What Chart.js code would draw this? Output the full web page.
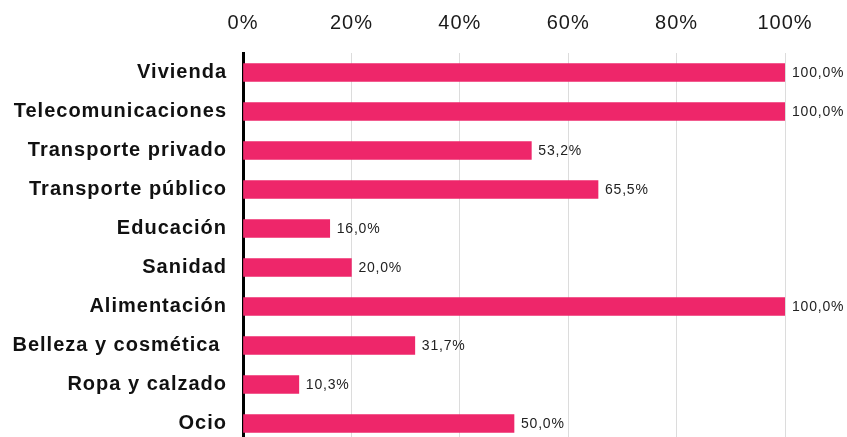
<!DOCTYPE html>
<html lang="es">
<head>
    <meta charset="UTF-8">
    <title>Gasto por categoría</title>
    <script src="https://cdn.jsdelivr.net/npm/chart.js"></script>
    <style>
        html, body { margin: 0; padding: 0; background: #fff; overflow: hidden; }
        canvas { display: block; }
    </style>
</head>
<body>
    <canvas id="chart" width="847" height="443"></canvas>
    <script>
        const categorias = [
            'Vivienda', 'Telecomunicaciones', 'Transporte privado', 'Transporte público',
            'Educación', 'Sanidad', 'Alimentación', 'Belleza y cosmética ',
            'Ropa y calzado', 'Ocio'
        ];
        const valores = [100.0, 100.0, 53.2, 65.5, 16.0, 20.0, 100.0, 31.7, 10.3, 50.0];
        const ticksX = [0, 20, 40, 60, 80, 100];

        const fuente = '"Liberation Sans", Arial, Helvetica, sans-serif';

        // un poco de espaciado entre letras, como en el original
        const espaciado = {
            id: 'espaciado',
            beforeDraw(chart) { chart.ctx.letterSpacing = '1px'; }
        };

        // etiquetas de valor a la derecha de cada barra
        const etiquetas = {
            id: 'etiquetas',
            afterDatasetsDraw(chart) {
                const ctx = chart.ctx;
                const meta = chart.getDatasetMeta(0);
                ctx.save();
                ctx.font = '14px ' + fuente;
                ctx.letterSpacing = '0.8px';
                ctx.fillStyle = '#222';
                ctx.textAlign = 'left';
                ctx.textBaseline = 'middle';
                meta.data.forEach((bar, i) => {
                    const txt = valores[i].toFixed(1).replace('.', ',') + '%';
                    ctx.fillText(txt, bar.x + 7, bar.y + 1);
                });
                ctx.restore();
            }
        };

        new Chart(document.getElementById('chart'), {
            type: 'bar',
            data: {
                labels: categorias,
                datasets: [{
                    data: valores,
                    backgroundColor: '#EE266A',
                    barThickness: 18
                }]
            },
            options: {
                indexAxis: 'y',
                responsive: false,
                animation: false,
                layout: { padding: { top: 0, bottom: 0, left: 0, right: 62 } },
                plugins: { legend: { display: false }, tooltip: { enabled: false } },
                scales: {
                    x: {
                        position: 'top',
                        min: 0,
                        max: 100,
                        afterBuildTicks: s => { s.ticks = ticksX.map(v => ({ value: v })); },
                        afterFit: s => { s.height = 53; },
                        grid: { color: '#dcdcdc', lineWidth: 1, drawTicks: false },
                        border: { display: false },
                        ticks: {
                            padding: 18,
                            color: '#1a1a1a',
                            font: { family: fuente, size: 20 },
                            callback: v => v + '%'
                        }
                    },
                    y: {
                        afterFit: s => {
                            s.width = 243;
                            s.paddingTop = 0;
                            s.paddingBottom = 0;
                        },
                        grid: { display: false },
                        border: { display: true, color: '#000', width: 3 },
                        ticks: {
                            padding: 8,
                            color: '#111',
                            font: { family: fuente, size: 20, weight: 'bold' }
                        }
                    }
                }
            },
            plugins: [espaciado, etiquetas]
        });
    </script>
</body>
</html>
